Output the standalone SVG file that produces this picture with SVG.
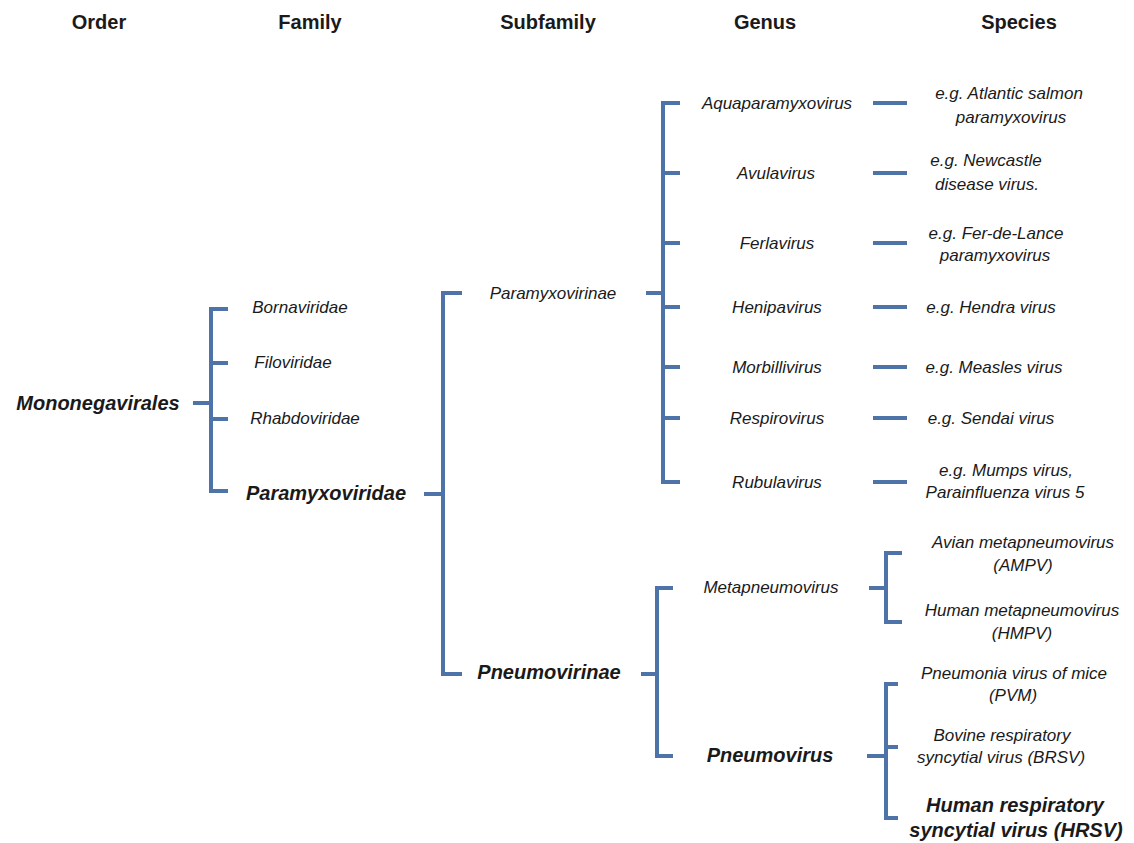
<svg xmlns="http://www.w3.org/2000/svg" width="1134" height="843" viewBox="0 0 1134 843">
<style>
.ln{fill:none;stroke:#4e73a9;stroke-width:4;stroke-linecap:butt}
text{font-family:"Liberation Sans",Arial,sans-serif;fill:#1a1a1a}
.h{font-weight:bold;font-size:20px;text-anchor:middle}
.n{font-style:italic;font-size:17px;text-anchor:middle}
.b{font-style:italic;font-weight:bold;font-size:20px;text-anchor:middle}
</style>
<rect width="1134" height="843" fill="#fff"/>
<g id="headers">
<text class="h" x="99" y="29">Order</text>
<text class="h" x="310" y="29">Family</text>
<text class="h" x="548" y="29">Subfamily</text>
<text class="h" x="765" y="29">Genus</text>
<text class="h" x="1019" y="29">Species</text>
</g>
<g id="connectors" class="ln">
<path d="M193,403H211"/>
<path d="M228,309H211V491H228M211,363H228M211,419H228"/>
<path d="M424,494H443"/>
<path d="M462,293H443V674H462"/>
<path d="M646,293H663"/>
<path d="M680,103H663V482H680M663,173H680M663,243H680M663,307H680M663,367H680M663,418H680"/>
<path d="M873,103H907M873,173H907M873,243H907M873,307H907M873,367H907M873,418H907M873,482H907"/>
<path d="M641,674H657"/>
<path d="M673,588H657V756H673"/>
<path d="M869,588H886"/>
<path d="M902,553H886V622H902"/>
<path d="M867,756H886"/>
<path d="M898,684H886V818H898M886,747H898"/>
</g>
<g id="order"><text class="b" x="98" y="410">Mononegavirales</text></g>
<g id="bornaviridae"><text class="n" x="300" y="313">Bornaviridae</text></g>
<g id="filoviridae"><text class="n" x="293" y="368">Filoviridae</text></g>
<g id="rhabdoviridae"><text class="n" x="305" y="424">Rhabdoviridae</text></g>
<g id="paramyxoviridae"><text class="b" x="326" y="500">Paramyxoviridae</text></g>
<g id="paramyxovirinae"><text class="n" x="553" y="299">Paramyxovirinae</text></g>
<g id="pneumovirinae"><text class="b" x="549" y="679">Pneumovirinae</text></g>
<g id="aquaparamyxovirus"><text class="n" x="777" y="109">Aquaparamyxovirus</text></g>
<g id="avulavirus"><text class="n" x="776" y="179">Avulavirus</text></g>
<g id="ferlavirus"><text class="n" x="777" y="249">Ferlavirus</text></g>
<g id="henipavirus"><text class="n" x="777" y="313">Henipavirus</text></g>
<g id="morbillivirus"><text class="n" x="777" y="373">Morbillivirus</text></g>
<g id="respirovirus"><text class="n" x="777" y="424">Respirovirus</text></g>
<g id="rubulavirus"><text class="n" x="777" y="488">Rubulavirus</text></g>
<g id="metapneumovirus"><text class="n" x="771" y="593">Metapneumovirus</text></g>
<g id="pneumovirus"><text class="b" x="770" y="762">Pneumovirus</text></g>
<g id="sp-atlantic"><text class="n" x="1009" y="99">e.g. Atlantic salmon</text><text class="n" x="1011" y="123">paramyxovirus</text></g>
<g id="sp-newcastle"><text class="n" x="986" y="166">e.g. Newcastle</text><text class="n" x="987" y="190">disease virus.</text></g>
<g id="sp-ferdelance"><text class="n" x="996" y="239">e.g. Fer-de-Lance</text><text class="n" x="995" y="261">paramyxovirus</text></g>
<g id="sp-hendra"><text class="n" x="991" y="313">e.g. Hendra virus</text></g>
<g id="sp-measles"><text class="n" x="994" y="373">e.g. Measles virus</text></g>
<g id="sp-sendai"><text class="n" x="991" y="424">e.g. Sendai virus</text></g>
<g id="sp-mumps"><text class="n" x="1006" y="476">e.g. Mumps virus,</text><text class="n" x="1005" y="498">Parainfluenza virus 5</text></g>
<g id="sp-ampv"><text class="n" x="1023" y="548">Avian metapneumovirus</text><text class="n" x="1023" y="571">(AMPV)</text></g>
<g id="sp-hmpv"><text class="n" x="1022" y="616">Human metapneumovirus</text><text class="n" x="1022" y="639">(HMPV)</text></g>
<g id="sp-pvm"><text class="n" x="1014" y="679">Pneumonia virus of mice</text><text class="n" x="1013" y="701">(PVM)</text></g>
<g id="sp-brsv"><text class="n" x="1002" y="741">Bovine respiratory</text><text class="n" x="1001" y="763">syncytial virus (BRSV)</text></g>
<g id="sp-hrsv"><text class="b" x="1015" y="812">Human respiratory</text><text class="b" x="1016" y="837">syncytial virus (HRSV)</text></g>
</svg>
